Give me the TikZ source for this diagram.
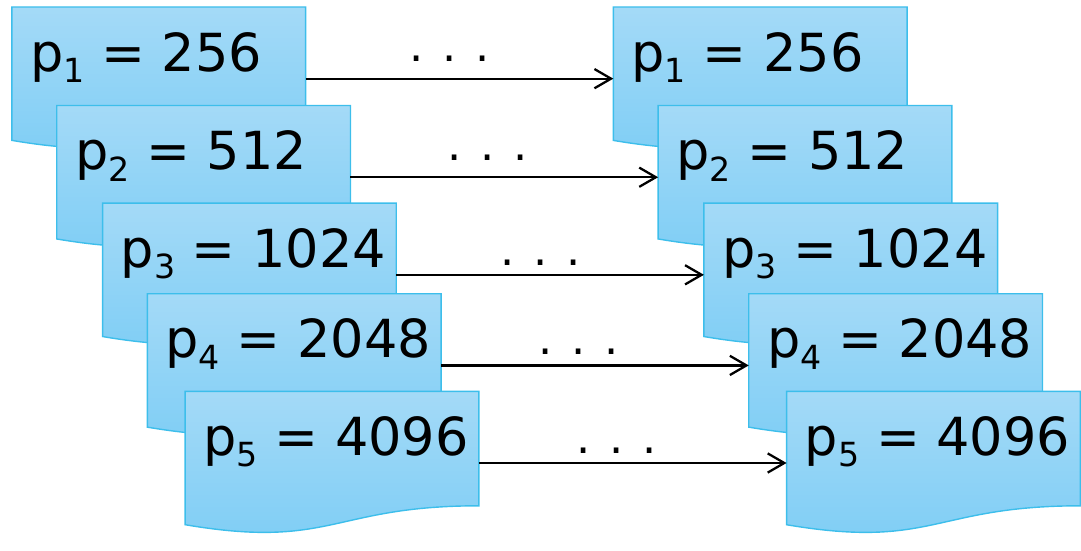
\documentclass[tikz,border=0pt]{standalone}
\usepackage{fontspec}
\setmainfont{DejaVu Sans}
\usepackage{xcolor}
\usetikzlibrary{arrows.meta}
\definecolor{doctop}{HTML}{A4DAF7}
\definecolor{docbot}{HTML}{7DCDF5}
\definecolor{docedge}{HTML}{3DBEEB}
\newcommand\psub[1]{p\raisebox{-6.5pt}{\fontsize{19}{20}\selectfont #1}}

\begin{document}
\begin{tikzpicture}[x=0.02cm,y=-0.02cm,
    docbox/.style={draw=docedge, line width=0.8pt, top color=doctop, bottom color=docbot},
    doctext/.style={anchor=base west, inner sep=0pt, font=\fontsize{30}{36}\selectfont},
    dotsl/.style={anchor=base, inner sep=0pt, font=\fontsize{25.5}{30}\selectfont},
    link/.style={line width=1.3pt, -{Straight Barb[length=9.5pt,width=11pt]}}]

  % -- the two stacks of documents; the right one is the left one moved 604 px
  \foreach \i/\x/\y/\v in {1/12/7/256, 2/57/106/512, 3/103/204/1024,
                           4/148/295/2048, 5/186/393/4096}{
    \begin{scope}[shift={(\x,\y)}]
      \draw[docbox] (0,0) -- (295,0) -- (295,115)
        .. controls (147.5,115) and (147.5,159) .. (0,134) -- cycle;
      \node[doctext] (l\i) at (18,64.5) {\psub{\i} = \v};
      \coordinate (l\i-e) at (295,72);
    \end{scope}
    \begin{scope}[shift={(\x+604,\y)}]
      \draw[docbox] (0,0) -- (295,0) -- (295,115)
        .. controls (147.5,115) and (147.5,159) .. (0,134) -- cycle;
      \node[doctext] (r\i) at (18,64.5) {\psub{\i} = \v};
      \coordinate (r\i-w) at (0,72);
    \end{scope}}

  % -- arrows between the stacks, each with its row of dots
  \foreach \i/\dx/\dy in {1/451.7/62, 2/490/160.7, 3/543.3/266.3,
                          4/580.7/356.3, 5/619.3/455}{
    \draw[link] (l\i-e) -- (r\i-w);
    \node[dotsl] (d\i) at (\dx,\dy) {. . .};}

  \useasboundingbox (0,0) rectangle (1081,533);
\end{tikzpicture}
\end{document}
